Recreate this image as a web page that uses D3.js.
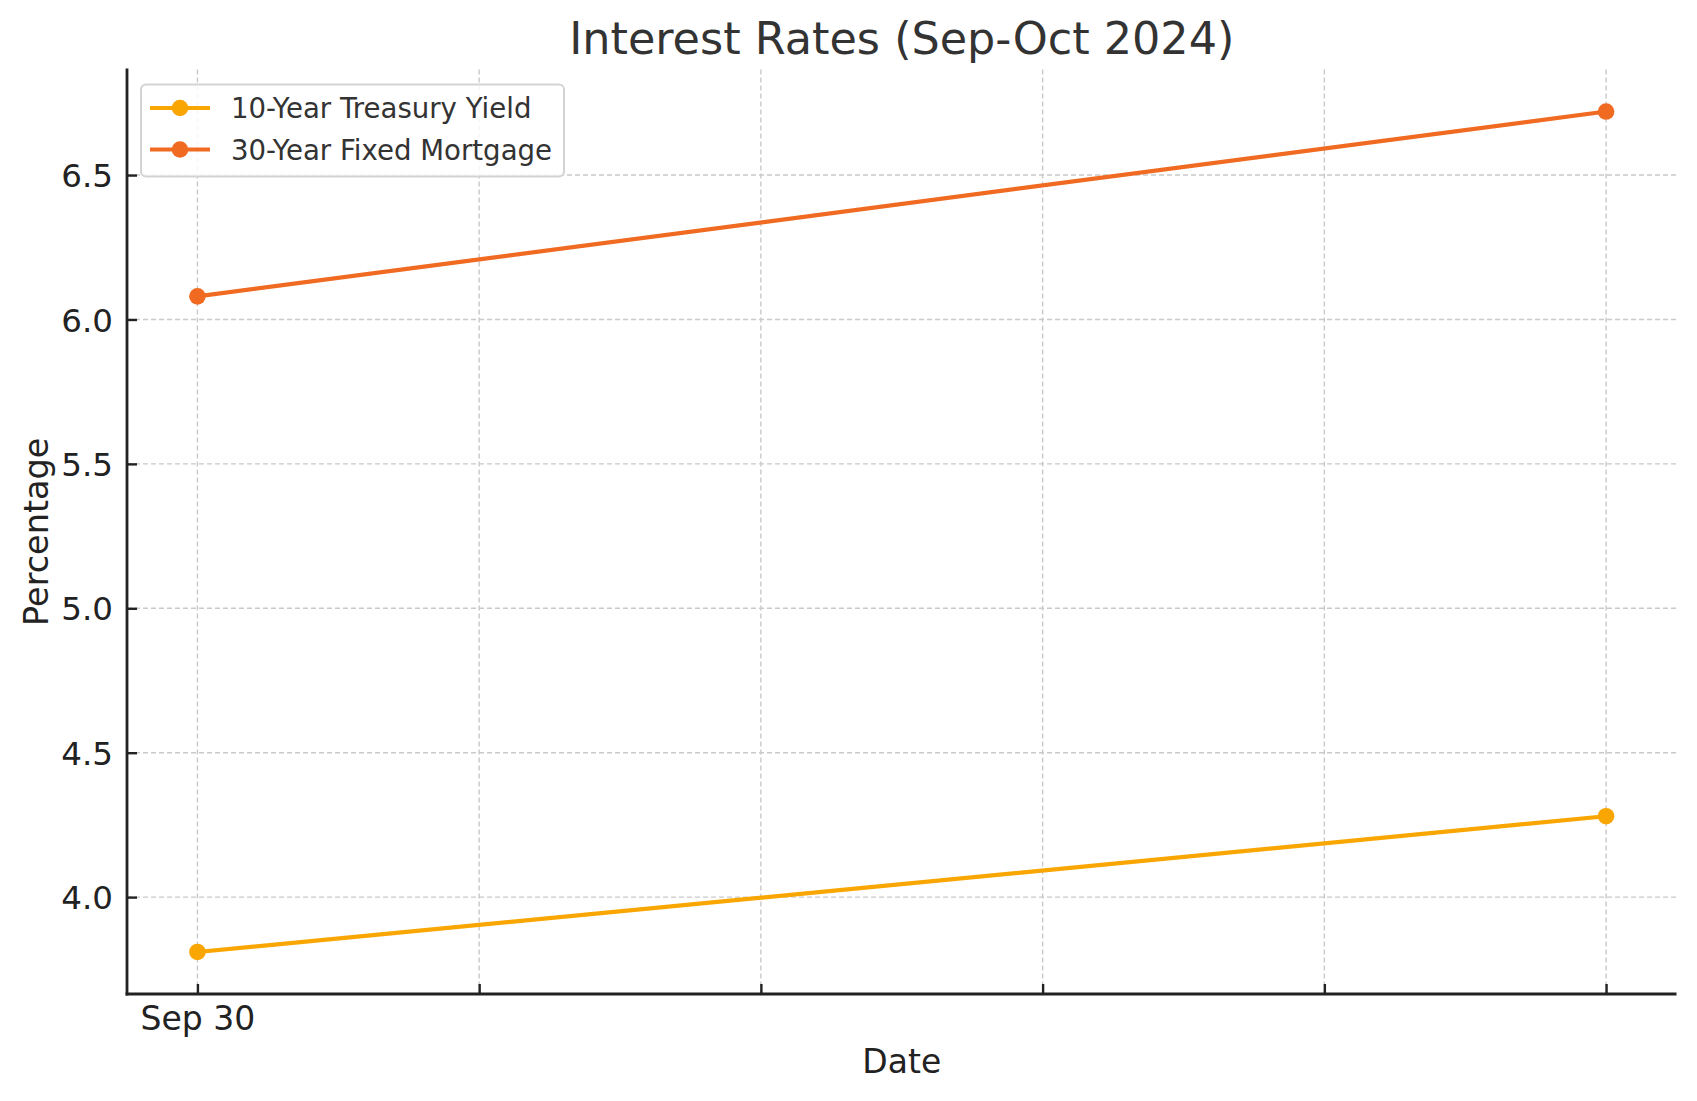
<!DOCTYPE html>
<html>
<head>
<meta charset="utf-8">
<script src="https://cdn.jsdelivr.net/npm/d3@7"></script>
<style>
  html, body { margin: 0; padding: 0; background: #fff; }
  svg { display: block; font-family: "DejaVu Sans", sans-serif; }
</style>
</head>
<body>
<svg id="chart" width="1697" height="1101"></svg>
<script>
// ---- data ----
const xTickLabels = ["Sep 30", "", "", "", "", ""];
const pointIndex = [0, 5];
const treasuryYield = [3.81, 4.28];
const mortgageRate = [6.08, 6.72];
const yTicks = [4.0, 4.5, 5.0, 5.5, 6.0, 6.5];
const seriesNames = ["10-Year Treasury Yield", "30-Year Fixed Mortgage"];
const seriesColors = ["#F9A602", "#F06A22"];

const series = [
  { name: seriesNames[0], color: seriesColors[0], values: treasuryYield },
  { name: seriesNames[1], color: seriesColors[1], values: mortgageRate }
];

// ---- layout ----
const svg = d3.select("#chart");
const plot = { left: 127, right: 1676.5, top: 69.5, bottom: 994 };

const allVals = treasuryYield.concat(mortgageRate);
const yMin = d3.min(allVals), yMax = d3.max(allVals);
const yPad = (yMax - yMin) * 0.05;
const xMin = d3.min(pointIndex), xMax = d3.max(pointIndex);
const xPad = (xMax - xMin) * 0.05;

const x = d3.scaleLinear().domain([xMin - xPad, xMax + xPad]).range([plot.left, plot.right]);
const y = d3.scaleLinear().domain([yMin - yPad, yMax + yPad]).range([plot.bottom, plot.top]);

const xTickVals = d3.range(xTickLabels.length);

// ---- grid ----
const grid = svg.append("g").attr("class", "grid");
grid.selectAll("line.h").data(yTicks).join("line")
  .attr("x1", plot.left).attr("x2", plot.right)
  .attr("y1", d => y(d)).attr("y2", d => y(d))
  .attr("stroke", "#c9c9c9").attr("stroke-width", 1.4).attr("stroke-dasharray", "5,3");
grid.selectAll("line.v").data(xTickVals).join("line")
  .attr("x1", d => x(d)).attr("x2", d => x(d))
  .attr("y1", plot.top).attr("y2", plot.bottom)
  .attr("stroke", "#c9c9c9").attr("stroke-width", 1.4).attr("stroke-dasharray", "5,3");

// ---- lines and markers ----
const line = d3.line().x((d, i) => x(pointIndex[i])).y(d => y(d));
series.forEach(s => {
  svg.append("path").datum(s.values)
    .attr("d", line).attr("fill", "none")
    .attr("stroke", s.color).attr("stroke-width", 4.2).attr("stroke-linecap", "square");
  svg.append("g").selectAll("circle").data(s.values).join("circle")
    .attr("cx", (d, i) => x(pointIndex[i])).attr("cy", d => y(d))
    .attr("r", 8.3).attr("fill", s.color);
});

// ---- axes ----
const yAxis = d3.axisLeft(y).tickValues(yTicks).tickFormat(d3.format(".1f"))
  .tickSizeInner(-10).tickSizeOuter(0).tickPadding(14);
const gy = svg.append("g").attr("transform", `translate(${plot.left},0)`).call(yAxis);
gy.select(".domain").remove();
gy.selectAll(".tick line").attr("stroke", "#222").attr("stroke-width", 2.4);
gy.selectAll(".tick text").attr("font-size", 32.5).attr("fill", "#222")
  .attr("font-family", "DejaVu Sans").attr("dy", "0.36em");

const xAxis = d3.axisBottom(x).tickValues(xTickVals).tickFormat((d, i) => xTickLabels[i])
  .tickSizeInner(-10).tickSizeOuter(0).tickPadding(13);
const gx = svg.append("g").attr("transform", `translate(0,${plot.bottom})`).call(xAxis);
gx.select(".domain").remove();
gx.selectAll(".tick line").attr("stroke", "#222").attr("stroke-width", 2.4);
gx.selectAll(".tick text").attr("font-size", 33).attr("fill", "#222")
  .attr("font-family", "DejaVu Sans").attr("dy", "0.69em");

// spines
svg.append("line").attr("x1", plot.left).attr("x2", plot.left)
  .attr("y1", plot.top - 1).attr("y2", plot.bottom + 1.4)
  .attr("stroke", "#222").attr("stroke-width", 2.8);
svg.append("line").attr("x1", plot.left - 1.4).attr("x2", plot.right)
  .attr("y1", plot.bottom).attr("y2", plot.bottom)
  .attr("stroke", "#222").attr("stroke-width", 2.8);

// ---- titles ----
svg.append("text").attr("x", (plot.left + plot.right) / 2).attr("y", 54)
  .attr("text-anchor", "middle").attr("font-size", 44.5).attr("fill", "#333")
  .text("Interest Rates (Sep-Oct 2024)");
svg.append("text").attr("x", (plot.left + plot.right) / 2).attr("y", 1073)
  .attr("text-anchor", "middle").attr("font-size", 33).attr("fill", "#222")
  .text("Date");
svg.append("text")
  .attr("transform", `translate(47.5,${(plot.top + plot.bottom) / 2}) rotate(-90)`)
  .attr("text-anchor", "middle").attr("font-size", 33.5).attr("fill", "#222")
  .text("Percentage");

// ---- legend ----
const lg = svg.append("g");
lg.append("rect").attr("x", 141).attr("y", 84.5).attr("width", 423).attr("height", 92)
  .attr("rx", 5).attr("fill", "rgba(255,255,255,0.85)")
  .attr("stroke", "#d3d3d3").attr("stroke-width", 2);
series.forEach((s, i) => {
  const cy = 108 + i * 41.5;
  lg.append("line").attr("x1", 150).attr("x2", 210).attr("y1", cy).attr("y2", cy)
    .attr("stroke", s.color).attr("stroke-width", 4.2);
  lg.append("circle").attr("cx", 180).attr("cy", cy).attr("r", 8.3).attr("fill", s.color);
  lg.append("text").attr("x", 231).attr("y", cy + 10)
    .attr("font-size", 27.6).attr("fill", "#333").text(s.name);
});
</script>
</body>
</html>
